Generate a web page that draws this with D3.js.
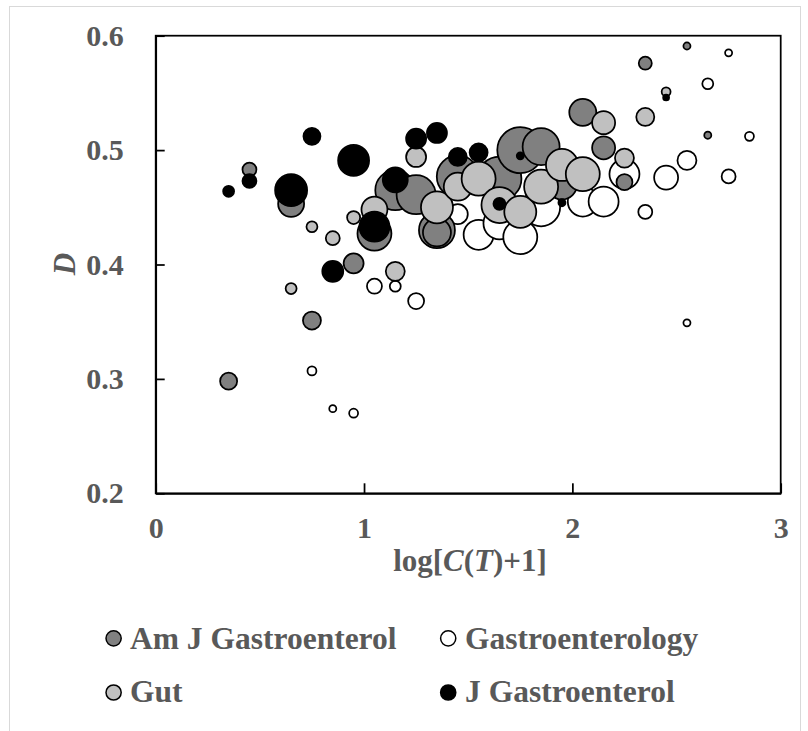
<!DOCTYPE html>
<html>
<head>
<meta charset="utf-8">
<script src="https://cdn.jsdelivr.net/npm/d3@7"></script>
<style>
  html, body { margin: 0; padding: 0; background: #fff; }
  svg text { font-family: "Liberation Serif", "Times New Roman", serif; font-weight: bold; fill: #595959; }
</style>
</head>
<body>
<svg id="chart" width="808" height="731"></svg>
<script>
// Each bubble: [log(C(T)+1), D, size]
const amJGastroenterol = [
  [0.35, 0.298, 11.6], [0.45, 0.483, 7.8], [0.65, 0.453, 27], [0.75, 0.351, 13],
  [0.95, 0.401, 16], [1.05, 0.427, 46.2], [1.15, 0.465, 64], [1.25, 0.461, 61],
  [1.35, 0.430, 51.8], [1.35, 0.428, 31.4], [1.45, 0.477, 70.6], [1.65, 0.475, 77.4],
  [1.75, 0.500, 84.6], [1.85, 0.503, 54.8], [1.95, 0.470, 36], [2.05, 0.533, 29.2],
  [2.15, 0.502, 21.2], [2.25, 0.472, 10.2], [2.35, 0.576, 6.8], [2.55, 0.591, 2],
  [2.65, 0.513, 2]
];
const gastroenterology = [
  [0.75, 0.307, 3.2], [0.85, 0.274, 2], [0.95, 0.270, 3.2], [1.05, 0.381, 9],
  [1.15, 0.381, 4.8], [1.25, 0.368, 10.2], [1.45, 0.444, 16], [1.55, 0.426, 36],
  [1.65, 0.436, 41], [1.75, 0.424, 46.2], [1.85, 0.450, 57.8], [2.05, 0.455, 36],
  [2.15, 0.455, 36], [2.25, 0.479, 36], [2.35, 0.446, 7.8], [2.45, 0.476, 23],
  [2.55, 0.491, 14.4], [2.55, 0.349, 2], [2.65, 0.558, 4.8], [2.75, 0.585, 2],
  [2.75, 0.477, 7.8], [2.85, 0.512, 3.2]
];
const gut = [
  [0.65, 0.379, 4.8], [0.75, 0.433, 4.8], [0.85, 0.423, 7.8], [0.95, 0.441, 6.8],
  [1.05, 0.448, 27], [1.15, 0.394, 14.4], [1.25, 0.494, 16], [1.35, 0.450, 41],
  [1.45, 0.468, 31.4], [1.55, 0.475, 46.2], [1.65, 0.452, 51.8], [1.75, 0.446, 41],
  [1.85, 0.468, 46.2], [1.95, 0.487, 41], [2.05, 0.479, 46.2], [2.15, 0.524, 21.2],
  [2.25, 0.493, 14.4], [2.35, 0.529, 13], [2.45, 0.551, 3.2]
];
const jGastroenterol = [
  [0.35, 0.464, 4.8], [0.45, 0.473, 7.8], [0.65, 0.465, 41], [0.75, 0.512, 11.6],
  [0.85, 0.394, 17.6], [0.95, 0.491, 38.4], [1.05, 0.433, 36], [1.15, 0.474, 25],
  [1.25, 0.510, 16], [1.35, 0.515, 16], [1.45, 0.494, 13], [1.55, 0.498, 13],
  [1.65, 0.453, 5.8], [1.75, 0.495, 2], [1.95, 0.454, 2], [2.45, 0.546, 1.4]
];

const xTicks = [0, 1, 2, 3];
const yTicks = [0.2, 0.3, 0.4, 0.5, 0.6];

// Series in legend order, with their fills; drawOrder sets stacking.
const series = [
  { name: "Am J Gastroenterol", data: amJGastroenterol, fill: "#808080" },
  { name: "Gastroenterology",   data: gastroenterology, fill: "#ffffff" },
  { name: "Gut",                data: gut,              fill: "#c0c0c0" },
  { name: "J Gastroenterol",    data: jGastroenterol,   fill: "#000000" }
];
const drawOrder = ["Gastroenterology", "Am J Gastroenterol", "Gut", "J Gastroenterol"];

const svg = d3.select("#chart");

// outer frame
svg.append("rect")
  .attr("x", 9.5).attr("y", 6.5).attr("width", 791).attr("height", 740)
  .attr("fill", "none").attr("stroke", "#d9d9d9").attr("stroke-width", 1);

const x = d3.scaleLinear().domain([0, 3]).range([155.7, 780.7]);
const y = d3.scaleLinear().domain([0.2, 0.6]).range([493.3, 35.7]);
const r = d3.scaleSqrt().domain([0, 100]).range([0, 25]);

// bubbles
const bubbles = svg.append("g");
drawOrder.forEach(name => {
  const s = series.find(d => d.name === name);
  bubbles.append("g").selectAll("circle")
    .data(s.data)
    .join("circle")
    .attr("cx", d => x(d[0]))
    .attr("cy", d => y(d[1]))
    .attr("r", d => r(d[2]))
    .attr("fill", s.fill)
    .attr("stroke", "#000")
    .attr("stroke-width", 1.75);
});

// plot frame
svg.append("rect")
  .attr("x", x(0)).attr("y", y(0.6))
  .attr("width", x(3) - x(0)).attr("height", y(0.2) - y(0.6))
  .attr("fill", "none").attr("stroke", "#000").attr("stroke-width", 1.75);

// axes (inward ticks)
const yAxis = svg.append("g")
  .attr("transform", `translate(${x(0)},0)`)
  .call(d3.axisLeft(y).tickValues(yTicks).tickFormat(d3.format(".1f"))
    .tickSize(-9).tickSizeOuter(0).tickPadding(32));
const xAxis = svg.append("g")
  .attr("transform", `translate(0,${y(0.2)})`)
  .call(d3.axisBottom(x).tickValues(xTicks).tickFormat(d3.format("d"))
    .tickSize(-10).tickSizeOuter(0).tickPadding(23));

[yAxis, xAxis].forEach(g => {
  g.select(".domain").attr("stroke", "#000").attr("stroke-width", 1.75);
  g.selectAll(".tick line").attr("stroke", "#000").attr("stroke-width", 1.75);
  g.selectAll(".tick text")
    .attr("fill", "#595959")
    .style("font-family", '"Liberation Serif", "Times New Roman", serif')
    .style("font-weight", "bold")
    .style("font-size", "30px");
});

// axis titles
const xt = svg.append("text")
  .attr("x", 470).attr("y", 570.5)
  .attr("text-anchor", "middle")
  .style("font-size", "31px");
xt.append("tspan").text("log[");
xt.append("tspan").style("font-style", "italic").text("C");
xt.append("tspan").text("(");
xt.append("tspan").style("font-style", "italic").text("T");
xt.append("tspan").text(")+1]");

svg.append("text")
  .attr("transform", "translate(75,264) rotate(-90)")
  .attr("text-anchor", "middle")
  .style("font-size", "31px")
  .style("font-style", "italic")
  .text("D");

// legend
const legendPos = [
  { cx: 113.6, cy: 638.3, tx: 130, ty: 648.5 },
  { cx: 448.2, cy: 638.3, tx: 465, ty: 648.5 },
  { cx: 113.6, cy: 692.5, tx: 130, ty: 701.8 },
  { cx: 448.2, cy: 692.5, tx: 465, ty: 701.8 }
];
const legend = svg.append("g");
series.forEach((s, i) => {
  const p = legendPos[i];
  legend.append("circle")
    .attr("cx", p.cx).attr("cy", p.cy).attr("r", 7.6)
    .attr("fill", s.fill).attr("stroke", "#000").attr("stroke-width", 1.5);
  legend.append("text")
    .attr("x", p.tx).attr("y", p.ty)
    .style("font-size", "31.5px")
    .text(s.name);
});
</script>
</body>
</html>
